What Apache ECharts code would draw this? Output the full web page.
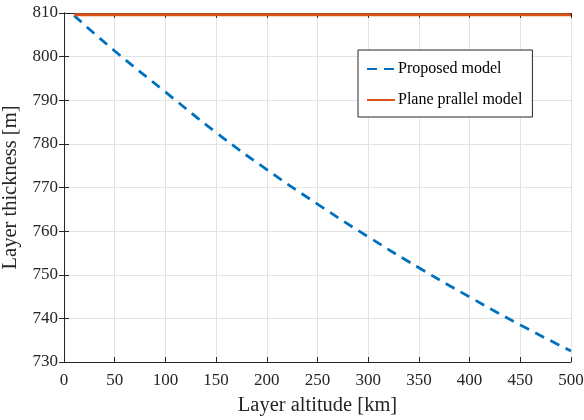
<!DOCTYPE html>
<html>
<head>
<meta charset="utf-8">
<script src="https://cdn.jsdelivr.net/npm/echarts@6/dist/echarts.min.js"></script>
<style>html,body{margin:0;padding:0;background:#fff}#c{width:584px;height:420px}</style>
</head>
<body>
<div id="c"></div>
<script>
var altitude = [10, 50, 100, 150, 200, 250, 300, 350, 400, 450, 500];
var proposed = [809.4, 801.3, 791.9, 782.6, 774.1, 766.2, 758.7, 751.6, 744.9, 738.5, 732.5];
var planeParallel = [809.6, 809.6, 809.6, 809.6, 809.6, 809.6, 809.6, 809.6, 809.6, 809.6, 809.6];
var seriesNames = ['Proposed model', 'Plane prallel model'];
var xTitle = 'Layer altitude [km]';
var yTitle = 'Layer thickness [m]';

function pairs(xs, ys){ return xs.map(function(x,i){ return [x, ys[i]]; }); }

var font = 'Liberation Serif';
var axisColor = '#262626';
var chart = echarts.init(document.getElementById('c'), null, {renderer:'canvas'});
chart.setOption({
  animation:false,
  backgroundColor:'#fff',
  grid:{left:64, right:13, top:13, bottom:58, containLabel:false, outerBoundsMode:'none'},
  legend:{
    left:358, top:50, orient:'vertical',
    padding:[11,10,9,8],
    itemWidth:28, itemHeight:3, itemGap:15,
    borderColor:axisColor, borderWidth:1, backgroundColor:'#fff',
    itemStyle:{opacity:0},
    textStyle:{fontFamily:font, fontSize:16, color:'#000', padding:[0,0,0,-2]},
    data:seriesNames
  },
  xAxis:[{
    type:'value', min:0, max:500, interval:50,
    name:xTitle, nameLocation:'middle', nameGap:33,
    nameTextStyle:{fontFamily:font, fontSize:20.5, color:'#262626'},
    axisLine:{show:true, lineStyle:{color:axisColor, width:1}},
    axisTick:{show:true, inside:true, length:5, lineStyle:{color:axisColor}},
    axisLabel:{fontFamily:font, fontSize:17, color:'#262626', margin:10},
    splitLine:{show:true, lineStyle:{color:'#e3e3e3', width:1}}
  },{
    type:'value', min:0, max:500, interval:50, position:'top',
    axisLine:{show:true, lineStyle:{color:axisColor, width:1}},
    axisTick:{show:true, inside:true, length:5, lineStyle:{color:axisColor}},
    axisLabel:{show:false}, splitLine:{show:false}
  }],
  yAxis:[{
    type:'value', min:730, max:810, interval:10,
    name:yTitle, nameLocation:'middle', nameGap:40,
    nameTextStyle:{fontFamily:font, fontSize:20.5, color:'#262626'},
    axisLine:{show:true, lineStyle:{color:axisColor, width:1}},
    axisTick:{show:true, inside:true, length:5, lineStyle:{color:axisColor}},
    axisLabel:{fontFamily:font, fontSize:17, color:'#262626', margin:6},
    splitLine:{show:true, lineStyle:{color:'#e3e3e3', width:1}}
  },{
    type:'value', min:730, max:810, interval:10, position:'right',
    axisLine:{show:true, lineStyle:{color:axisColor, width:1}},
    axisTick:{show:true, inside:true, length:5, lineStyle:{color:axisColor}},
    axisLabel:{show:false}, splitLine:{show:false}
  }],
  series:[{
    name:seriesNames[0], type:'line', smooth:true, symbol:'none',
    data:pairs(altitude, proposed),
    lineStyle:{color:'#0072BD', width:2.8, type:[10,7]},
    itemStyle:{color:'#0072BD'}
  },{
    name:seriesNames[1], type:'line', symbol:'none',
    data:pairs(altitude, planeParallel),
    lineStyle:{color:'#D95319', width:2.8},
    itemStyle:{color:'#D95319'}
  }]
});
</script>
</body>
</html>
